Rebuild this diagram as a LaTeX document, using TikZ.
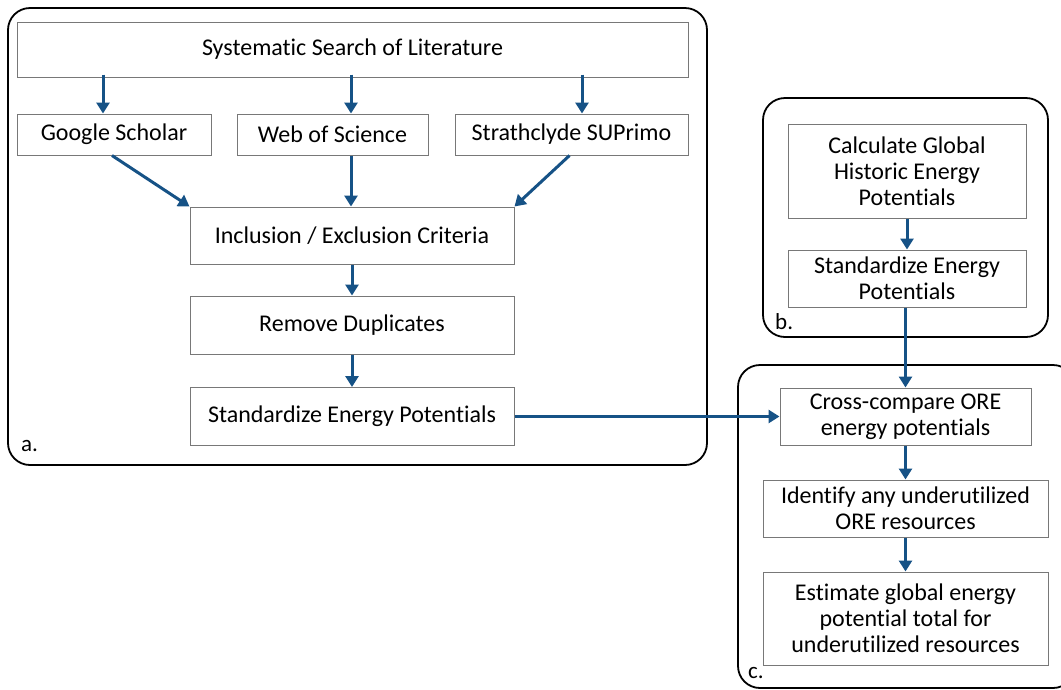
\documentclass[tikz,border=0pt]{standalone}
\usepackage{fontspec}
\setmainfont[Ligatures=NoCommon]{Carlito}
\usetikzlibrary{arrows.meta,calc}
\definecolor{arrowblue}{RGB}{22,82,134}
\definecolor{boxgrey}{RGB}{120,120,120}
\tikzset{
  panel/.style={draw=black, line width=1.8pt, rounded corners=22pt},
  boxa/.style={draw=boxgrey, line width=1pt, fill=white, align=center, inner sep=0pt,
    font=\fontsize{24}{27}\selectfont},
  boxb/.style={draw=boxgrey, line width=1pt, fill=white, align=center, inner sep=0pt,
    font=\fontsize{24}{26}\selectfont},
  flow/.style={draw=arrowblue, line width=3pt, -{Triangle[length=11pt,width=13pt]}},
  plabel/.style={anchor=base west, inner sep=0pt, font=\fontsize{23}{26}\selectfont},
}
\begin{document}
\begin{tikzpicture}[x=1pt,y=-1pt]
\useasboundingbox (0,0) rectangle (1061,689);
% panels
\draw[panel] (8,8) rectangle (707,465);
\draw[panel] (763,98) rectangle (1048,337);
\draw[panel] (738,365) rectangle (1075,688);
% panel a
\node[boxa, minimum width=671pt, minimum height=55pt] (sys) at (352.5,49.5) {Systematic Search of Literature};
\node[boxa, minimum width=194pt, minimum height=41pt] (gs) at (114,134.5) {Google Scholar};
\node[boxa, minimum width=191pt, minimum height=41pt] (wos) at (332.5,134.5) {Web of Science};
\node[boxa, minimum width=233pt, minimum height=41pt] (sup) at (571.5,134.5) {Strathclyde SUPrimo};
\node[boxa, minimum width=324pt, minimum height=57pt] (inc) at (352,235.5) {Inclusion / Exclusion Criteria};
\node[boxa, minimum width=324pt, minimum height=58pt] (rem) at (352,325) {Remove Duplicates};
\node[boxa, minimum width=324pt, minimum height=58pt] (std) at (352,416.5) {Standardize Energy Potentials};
\node[plabel] (la) at (21,451) {a.};
% panel b
\node[boxb, minimum width=238pt, minimum height=94pt] (calc) at (907,171) {Calculate Global\\Historic Energy\\Potentials};
\node[boxb, minimum width=238pt, minimum height=57pt] (bstd) at (907,278.5) {Standardize Energy\\Potentials};
\node[plabel] (lb) at (775,329) {b.};
% panel c
\node[boxb, minimum width=251pt, minimum height=57pt] (cross) at (905.5,416.5) {Cross-compare ORE\\energy potentials};
\node[boxb, minimum width=285pt, minimum height=57pt] (ident) at (905.5,508.5) {Identify any underutilized\\ORE resources};
\node[boxb, minimum width=285pt, minimum height=93pt] (est) at (905.5,618.5) {Estimate global energy\\potential total for\\underutilized resources};
\node[plabel] (lc) at (748,678) {c.};
% arrows panel a
\draw[flow] ([xshift=-11pt,yshift=3pt]gs.north |- sys.south) -- ([xshift=-11pt]gs.north);
\draw[flow] ([xshift=18.5pt,yshift=3pt]wos.north |- sys.south) -- ([xshift=18.5pt]wos.north);
\draw[flow] ([xshift=10.5pt,yshift=3pt]sup.north |- sys.south) -- ([xshift=10.5pt]sup.north);
\draw[flow] ([xshift=-2pt]gs.south) -- (inc.north west);
\draw[flow] ([xshift=18.5pt]wos.south) -- (inc.north -| {$(wos.south)+(18.5,0)$});
\draw[flow] ([xshift=-2pt]sup.south) -- (inc.north east);
\draw[flow] (inc.south) -- (rem.north);
\draw[flow] (rem.south) -- (std.north);
\draw[flow] (std.east) -- (cross.west);
% arrows b/c
\draw[flow] (calc.south) -- (bstd.north);
\draw[flow] ([xshift=-1.5pt]bstd.south) -- (cross.north);
\draw[flow] (cross.south) -- (ident.north);
\draw[flow] (ident.south) -- (est.north);
\end{tikzpicture}
\end{document}
